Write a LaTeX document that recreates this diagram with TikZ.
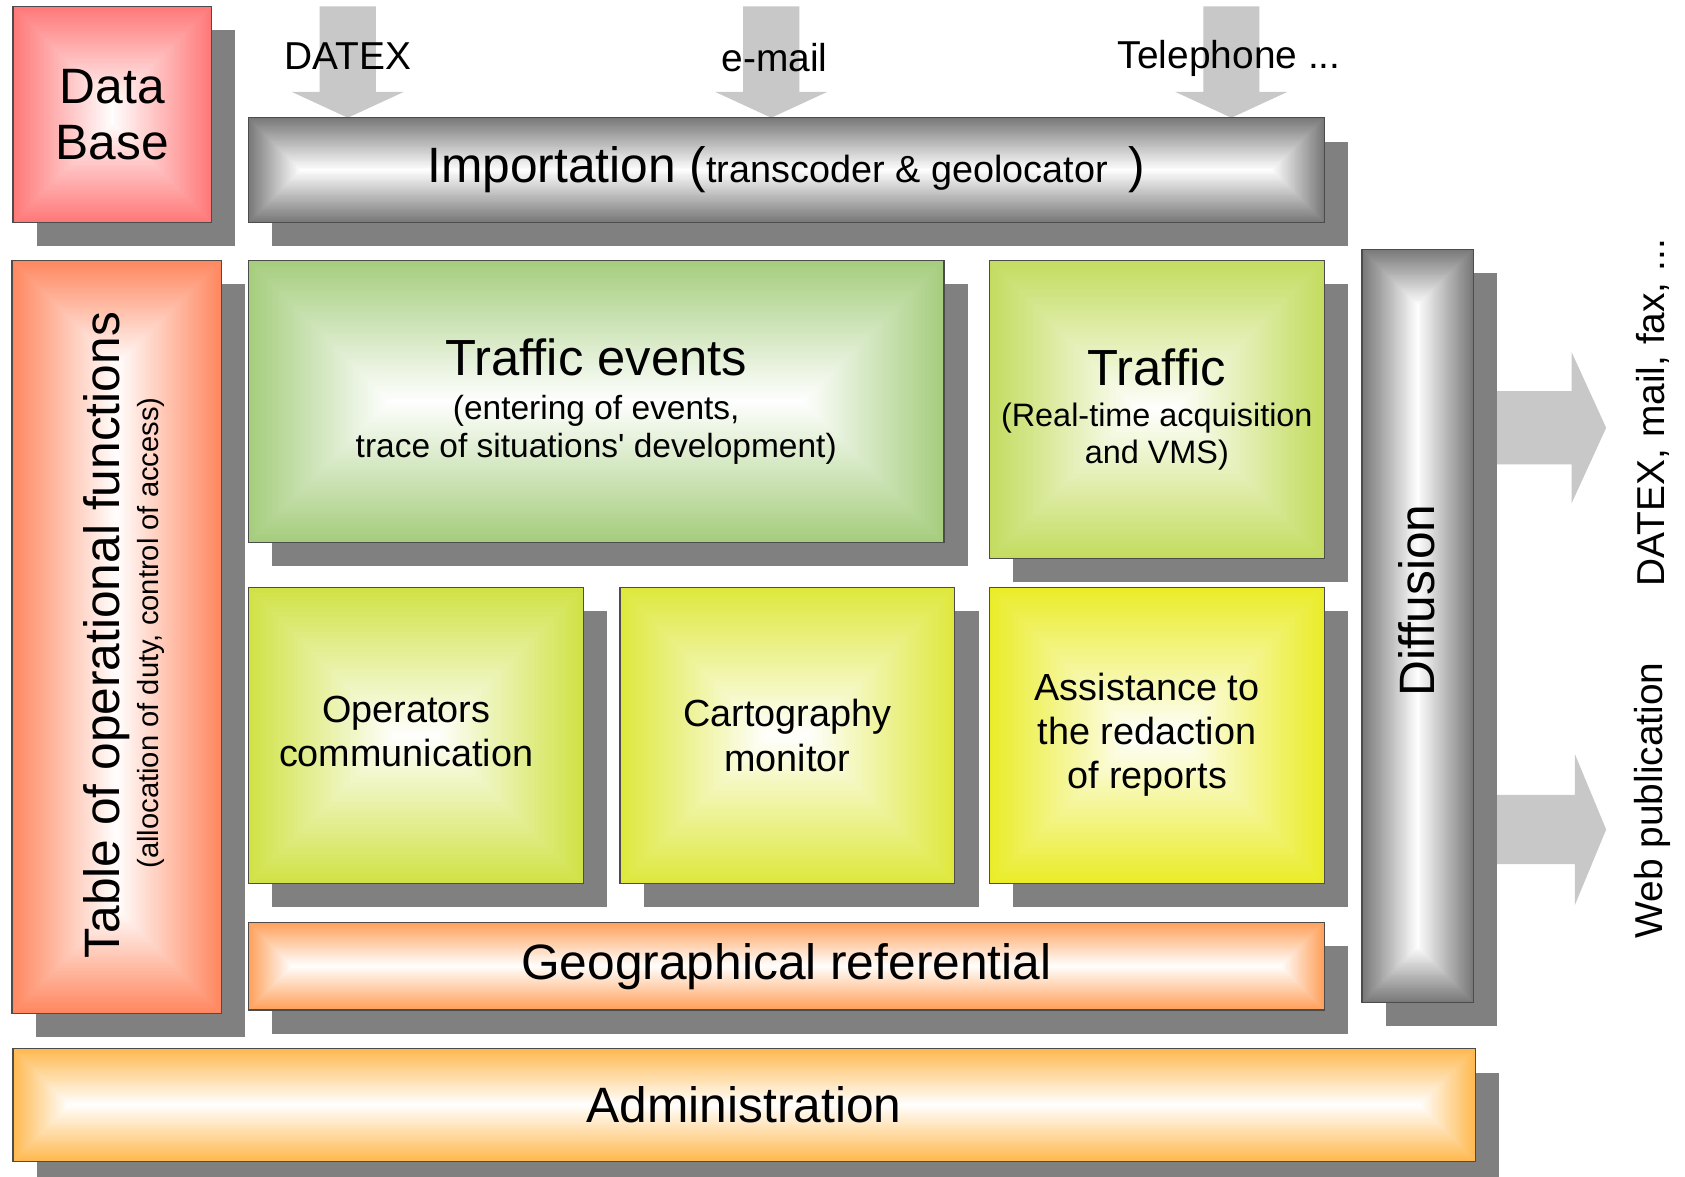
\documentclass[tikz,border=0pt]{standalone}
\usepackage{fontspec}
\setmainfont{Liberation Sans}[Ligatures=TeXOff]
\definecolor{shgray}{RGB}{128,128,128}
\definecolor{arrgray}{RGB}{200,200,200}
\definecolor{dbred}{RGB}{255,120,120}
\definecolor{impgray}{RGB}{120,120,120}
\definecolor{toforange}{RGB}{255,135,95}
\definecolor{tegreen}{RGB}{165,205,125}
\definecolor{trgreen}{RGB}{195,220,95}
\definecolor{ocyg}{RGB}{208,226,70}
\definecolor{cmyg}{RGB}{222,232,60}
\definecolor{asyel}{RGB}{234,236,40}
\definecolor{georange}{RGB}{255,160,90}
\definecolor{admorange}{RGB}{255,185,80}
\pgfdeclarelayer{arrowlayer}
\pgfdeclarelayer{boxlayer}
\pgfsetlayers{arrowlayer,boxlayer,main}
% shadow + rectangular (bevel) gradient behind a named node
\newcommand\gradnode[2]{%
  \path (#1.south west); \pgfgetlastxy{\rgxa}{\rgya}%
  \path (#1.north east); \pgfgetlastxy{\rgxb}{\rgyb}%
  \fill[shgray] (\rgxa+11pt,\rgya-11pt) rectangle (\rgxb+11pt,\rgyb-11pt);
  \pgfmathsetmacro\rghh{min(\rgxb-\rgxa,\rgyb-\rgya)/2}%
  \foreach \i in {0,...,60}{%
    \pgfmathsetmacro\rgd{\rghh*\i/60}%
    \pgfmathsetmacro\rgp{100*\i/60}%
    \fill[white!\rgp!#2] (\rgxa+\rgd pt,\rgya+\rgd pt) rectangle (\rgxb-\rgd pt,\rgyb-\rgd pt);
  }%
}
\newcommand\lsh{\hspace*{9pt}}
\newcommand\stk[1]{\begin{tabular}{@{}c@{}}#1\end{tabular}}
\tikzset{
  gbox/.style={draw=black!70, line width=0.6pt, inner sep=0pt, outer sep=0pt, align=center},
  bigf/.style={font=\fontsize{23}{26}\selectfont},
  midf/.style={font=\fontsize{17.5}{20.5}\selectfont},
  lbl/.style={inner sep=0pt, font=\fontsize{18}{21}\selectfont},
  blockarrow/.style={fill=arrgray, draw=none},
}
\begin{document}
\begin{tikzpicture}[x=0.5pt,y=-0.5pt]
\useasboundingbox (0,0) rectangle (1560,1089);
% boxes
\node[gbox, minimum width=92pt, minimum height=100pt, font=\fontsize{23}{26}\selectfont] (db) at (104,106) {Data\\Base};
\node[gbox, minimum width=498pt, minimum height=48.5pt] (imp) at (728,157.5)
  {{\fontsize{23}{26}\selectfont Importation (}{\fontsize{17.5}{20}\selectfont transcoder \& geolocator\ \ }{\fontsize{23}{26}\selectfont )}};
\node[gbox, minimum width=97pt, minimum height=348.5pt] (tof) at (108,589.5) {};
\node[gbox, minimum width=322pt, minimum height=130.5pt, font=\fontsize{15.5}{17.5}\selectfont] (te) at (552,371.5)
  {{\fontsize{23.5}{26}\selectfont Traffic events}\\[3pt](entering of events,\\trace of situations' development)};
\node[gbox, minimum width=155pt, minimum height=138pt, font=\fontsize{15}{17}\selectfont] (tr) at (1071,379)
  {{\fontsize{23.5}{26}\selectfont Traffic}\\[2pt](Real-time acquisition\\and VMS)};
\node[gbox, minimum width=51.5pt, minimum height=348.5pt] (dif) at (1312.5,579.5) {};
\node[gbox, minimum width=155pt, minimum height=137pt, midf] (oc) at (385,681) {\stk{Operators\\communication}\lsh};
\node[gbox, minimum width=155pt, minimum height=137pt, midf] (cm) at (729,681) {Cartography\\monitor};
\node[gbox, minimum width=155pt, minimum height=137pt, midf] (as) at (1071,681) {\stk{Assistance to\\the redaction\\of reports}\lsh};
\node[gbox, minimum width=498pt, minimum height=40.5pt, bigf] (geo) at (728,894.5) {Geographical referential};
\node[gbox, minimum width=677pt, minimum height=52pt, bigf] (adm) at (689,1023) {Administration};
% rotated labels
\node[rotate=90, inner sep=0pt, font=\fontsize{23}{26}\selectfont] (toft) at (99,588) {Table of operational functions};
\node[rotate=90, inner sep=0pt, font=\fontsize{13.5}{16}\selectfont] (tofs) at (140,586) {(allocation of duty, control of access)};
\node[rotate=90, inner sep=0pt, font=\fontsize{23}{26}\selectfont] (dift) at (1312,556) {Diffusion};
\node[rotate=90, lbl] (lout1) at (1530,382) {DATEX, mail, fax, ...};
\node[rotate=90, lbl] (lout2) at (1530,741) {Web publication};
% labels on input arrows
\node[lbl] (ldatex) at (322,52) {DATEX};
\node[lbl] (lmail) at (717,53) {e-mail};
\node[lbl] (ltel) at (1138,54) {Telephone ...};
% shadows and gradients
\begin{pgfonlayer}{boxlayer}
\gradnode{db}{dbred}
\gradnode{imp}{impgray}
\gradnode{tof}{toforange}
\gradnode{te}{tegreen}
\gradnode{tr}{trgreen}
\gradnode{dif}{impgray}
\gradnode{oc}{ocyg}
\gradnode{cm}{cmyg}
\gradnode{as}{asyel}
\gradnode{geo}{georange}
\gradnode{adm}{admorange}
\end{pgfonlayer}
% block arrows
\begin{pgfonlayer}{arrowlayer}
\fill[white] (0,0) rectangle (1560,1089);
\foreach \cx in {322,714,1140}{
  \fill[blockarrow] (\cx-26,6) -- (\cx+26,6) -- (\cx+26,85) -- (\cx+52,85) -- (\cx,109) -- (\cx-52,85) -- (\cx-26,85) -- cycle;
}
\fill[blockarrow] (1380,362) -- (1455,362) -- (1455,326) -- (1487,396) -- (1455,466) -- (1455,430) -- (1380,430) -- cycle;
\fill[blockarrow] (1380,736) -- (1458,736) -- (1458,698) -- (1487,768) -- (1458,838) -- (1458,800) -- (1380,800) -- cycle;
\end{pgfonlayer}
\end{tikzpicture}
\end{document}
